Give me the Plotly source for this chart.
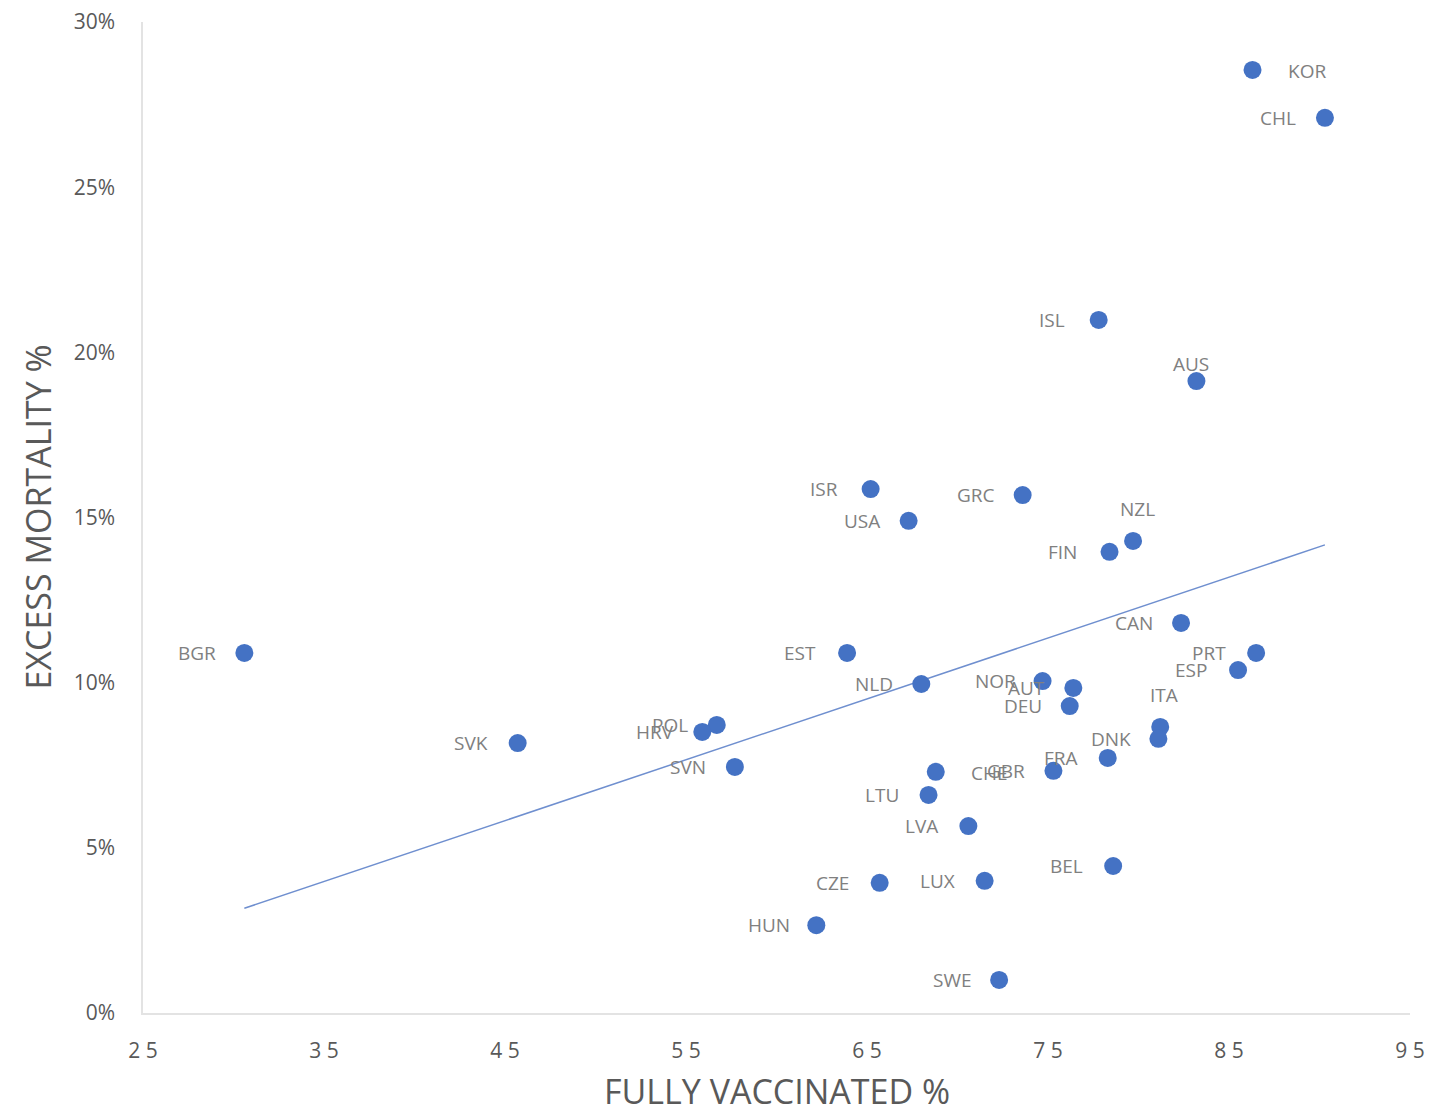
import numpy as np
import plotly.graph_objects as go

countries = ["KOR", "CHL", "ISL", "AUS", "ISR", "GRC", "USA", "NZL", "FIN", "CAN",
             "BGR", "EST", "PRT", "ESP", "NLD", "NOR", "AUT", "DEU", "ITA", "DNK",
             "FRA", "GBR", "CHE", "LTU", "LVA", "SVN", "POL", "HRV", "SVK", "BEL",
             "CZE", "LUX", "HUN", "SWE"]
fully_vaccinated = [86.3, 90.3, 77.8, 83.2, 65.2, 73.6, 67.3, 79.7, 78.4, 82.35,
                    30.6, 63.9, 86.5, 85.5, 68.0, 74.7, 76.4, 76.2, 81.2, 81.1,
                    78.3, 75.3, 68.8, 68.4, 70.6, 57.7, 56.7, 55.9, 45.7, 78.6,
                    65.7, 71.5, 62.2, 72.3]
excess_mortality = [28.55, 27.1, 20.98, 19.13, 15.86, 15.68, 14.9, 14.29, 13.96, 11.81,
                    10.9, 10.9, 10.9, 10.38, 9.96, 10.05, 9.84, 9.29, 8.66, 8.30,
                    7.72, 7.33, 7.30, 6.60, 5.66, 7.45, 8.72, 8.51, 8.17, 4.45,
                    3.94, 4.00, 2.66, 1.0]
x_ticks = [25, 35, 45, 55, 65, 75, 85, 95]
y_ticks = [0, 5, 10, 15, 20, 25, 30]

# label placement (layout only): side of the marker where each label sits
label_side = {"KOR": "right", "CHE": "right", "AUS": "top_near", "NZL": "top", "ITA": "top"}
side_shift = {"left": (-47, 0), "right": (54, -1), "top": (4, 32), "top_near": (-5, 17)}

BLUE = "#4472C4"
GRAY = "#808080"
FONT = "Open Sans"

fig = go.Figure()

# linear trendline (least squares fit)
xv = np.array(fully_vaccinated)
yv = np.array(excess_mortality)
slope, intercept = np.polyfit(xv, yv, 1)
tx = np.array([xv.min(), xv.max()])
fig.add_trace(go.Scatter(x=tx, y=slope * tx + intercept, mode="lines",
                         line=dict(color="#6f8fcf", width=1.5), hoverinfo="skip",
                         showlegend=False))

fig.add_trace(go.Scatter(x=fully_vaccinated, y=excess_mortality, mode="markers",
                         marker=dict(color=BLUE, size=18, line=dict(width=0)),
                         text=countries, showlegend=False))

for c, x, y in zip(countries, fully_vaccinated, excess_mortality):
    dx, dy = side_shift[label_side.get(c, "left")]
    fig.add_annotation(x=x, y=y, text=c, showarrow=False, xanchor="center", yanchor="middle",
                       xshift=dx, yshift=dy,
                       font=dict(family=FONT, size=19, color=GRAY))

# axis titles
fig.add_annotation(x=0.5, y=0, xref="paper", yref="paper", yshift=-78, text="FULLY VACCINATED %",
                   showarrow=False, xanchor="center", yanchor="middle",
                   font=dict(family=FONT, size=34, color="#595959"))
fig.add_annotation(x=0, y=0.5, xref="paper", yref="paper", xshift=-106, text="EXCESS MORTALITY %",
                   showarrow=False, xanchor="center", yanchor="middle", textangle=-90,
                   font=dict(family=FONT, size=34, color="#595959"))

# page body adds an 8px offset, so the figure is sized to fit the window exactly
fig.update_layout(
    width=1435, height=1109,
    margin=dict(l=135, r=33, t=14, b=104),
    plot_bgcolor="white", paper_bgcolor="white",
    font=dict(family=FONT, color="#595959"),
)
fig.update_xaxes(range=[25, 95], tickvals=x_ticks, ticktext=[" ".join(str(v)) for v in x_ticks],
                 showgrid=False, zeroline=False, showline=True, linecolor="#e3e3e3", linewidth=1.5,
                 ticks="", ticklabelstandoff=18, automargin=False, ticklabeloverflow="allow",
                 tickfont=dict(family=FONT, size=21, color="#595959"))
fig.update_yaxes(range=[0, 30], tickvals=y_ticks, ticktext=[f"{v}%" for v in y_ticks],
                 showgrid=False, zeroline=False, showline=True, linecolor="#e3e3e3", linewidth=1.5,
                 ticks="", ticklabelstandoff=22, automargin=False, ticklabeloverflow="allow",
                 tickfont=dict(family=FONT, size=21, color="#595959"))

fig.write_html("out.html")
